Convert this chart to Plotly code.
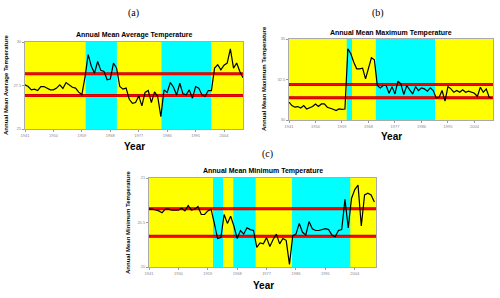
import plotly.graph_objects as go

W, H = 500, 298
years = list(range(1941, 2011))

# Panel (a): annual mean average temperature
avg_temp = [27.54, 27.44, 27.25, 27.29, 27.21, 27.44, 27.44, 27.35, 27.25, 27.25,
            27.35, 27.54, 27.33, 27.67, 27.52, 27.40, 27.35, 27.12, 26.98, 28.00,
            29.27, 28.60, 28.21, 28.88, 28.37, 28.31, 27.83, 27.87, 28.79, 28.50,
            27.44, 27.29, 27.35, 26.71, 26.48, 26.52, 26.90, 26.33, 27.10, 27.21,
            26.52, 27.13, 26.87, 25.71, 27.25, 27.10, 27.67, 27.40, 26.96, 27.63,
            27.02, 26.96, 27.25, 26.77, 27.44, 27.35, 26.96, 26.87, 27.21, 27.21,
            28.50, 28.69, 28.40, 28.67, 28.79, 29.60, 28.50, 28.79, 28.31, 27.94]
avg_refs = [28.17, 26.92]
avg_bands = [1941, 1960.2, 1970.1, 1984.2, 2000.0, 2010]

# Panel (b): annual mean maximum temperature
max_temp = [31.10, 30.89, 30.79, 30.83, 30.74, 30.89, 30.68, 30.74, 30.83, 30.99,
            30.83, 30.99, 30.99, 30.79, 30.74, 30.66, 30.58, 30.68, 30.66, 30.68,
            34.40, 34.09, 33.57, 33.16, 33.16, 33.20, 32.54, 33.16, 33.84, 33.72,
            32.13, 31.98, 32.13, 32.13, 31.65, 32.06, 31.61, 32.40, 32.23, 31.57,
            32.13, 31.86, 31.61, 32.06, 31.82, 31.98, 31.92, 31.78, 31.98, 31.82,
            31.36, 31.40, 31.82, 31.16, 32.06, 31.92, 31.71, 31.82, 31.71, 31.86,
            31.71, 31.78, 31.71, 31.65, 31.45, 32.02, 31.71, 31.92, 31.40, 31.36]
max_refs = [32.19, 31.38]
max_bands = [1941, 1960.6, 1962.4, 1970.5, 1990.6, 2010.3]

# Panel (c): annual mean minimum temperature
min_temp = [20.65, 20.65, 20.64, 20.63, 20.61, 20.65, 20.65, 20.64, 20.64, 20.64,
            20.66, 20.63, 20.69, 20.64, 20.65, 20.68, 20.59, 20.59, 20.63, 20.65,
            20.49, 20.32, 20.33, 20.59, 20.49, 20.57, 20.46, 20.32, 20.41, 20.37,
            20.44, 20.42, 20.41, 20.22, 20.27, 20.26, 20.33, 20.23, 20.31, 20.37,
            20.26, 20.32, 20.30, 20.03, 20.35, 20.37, 20.49, 20.39, 20.36, 20.51,
            20.43, 20.41, 20.41, 20.42, 20.43, 20.42, 20.36, 20.34, 20.41, 20.42,
            20.76, 20.44, 20.77, 20.87, 20.92, 20.46, 20.81, 20.83, 20.81, 20.73]
min_refs = [20.655, 20.345]
min_bands = [1941, 1960.6, 1963.7, 1966.8, 1973.7, 1984.8, 2002.7, 2010.5]

titles = ["Annual Mean Average Temperature", "Annual Mean Maximum Temperature",
          "Annual Mean Minimum Temperature"]
panel_tags = ["(a)", "(b)", "(c)"]
x_ticks = [1941, 1950, 1959, 1968, 1977, 1986, 1995, 2004]
y_ticks_a = [25, 27.5, 30]
y_ticks_b = [30, 32.5, 35]
y_ticks_c = [20, 20.5, 21]


def fx(px):
    return px / W


def fy(py):
    return 1 - py / H


panels = [
    dict(y=avg_temp, refs=avg_refs, bands=avg_bands, yt=y_ticks_a, ytl=["25", "27.5", "30"],
         box=(25, 243, 42, 129), tag=(133, 13), title=(134, 35), year=(134, 146), ylab=(6, 85)),
    dict(y=max_temp, refs=max_refs, bands=max_bands, yt=y_ticks_b, ytl=["30", "32.5", "35"],
         box=(289, 493, 39, 120), tag=(378, 13), title=(391, 33), year=(391, 136), ylab=(264, 79)),
    dict(y=min_temp, refs=min_refs, bands=min_bands, yt=y_ticks_c, ytl=["20", "20.5", "21"],
         box=(149, 376, 178, 267), tag=(267, 154), title=(263, 171), year=(263, 285), ylab=(128, 222)),
]

fig = go.Figure()
shapes = []
annotations = []
sans = "Liberation Sans, Arial, sans-serif"
serif = "Liberation Serif, Times New Roman, serif"


def ann(text, px, py, font, angle=0):
    return dict(text=text, x=fx(px), y=fy(py), xref="paper", yref="paper", showarrow=False,
                xanchor="center", yanchor="middle", textangle=angle, font=font)


for i, p in enumerate(panels):
    n = "" if i == 0 else str(i + 1)
    xa, ya = "x" + n, "y" + n
    x0, x1, y0, y1 = p["box"]
    fig.add_trace(go.Scatter(x=years, y=p["y"], mode="lines", xaxis=xa, yaxis=ya,
                             line=dict(color="black", width=1.2), showlegend=False,
                             hoverinfo="skip"))
    b = p["bands"]
    for k in range(len(b) - 1):
        shapes.append(dict(type="rect", xref=xa, yref=ya + " domain", x0=b[k], x1=b[k + 1],
                           y0=0, y1=1, layer="below", line=dict(width=0),
                           fillcolor="#ffff00" if k % 2 == 0 else "#00ffff"))
    for r in p["refs"]:
        shapes.append(dict(type="line", xref=xa + " domain", yref=ya, x0=0, x1=1, y0=r, y1=r,
                           layer="below", line=dict(color="#c00000", width=3)))
        shapes.append(dict(type="line", xref=xa + " domain", yref=ya, x0=0, x1=1, y0=r, y1=r,
                           layer="below", line=dict(color="#ff0000", width=1.8)))
    fig.layout["xaxis" + n] = dict(domain=[fx(x0), fx(x1)], range=[b[0], b[-1]], anchor=ya,
                                   tickvals=x_ticks, ticktext=[str(t) for t in x_ticks],
                                   tickfont=dict(size=4, color="#888888", family=sans),
                                   ticks="outside", ticklen=2, tickcolor="#999999",
                                   showgrid=False, zeroline=False, showline=True,
                                   linecolor="#aaaaaa", linewidth=1, mirror=True,
                                   automargin=False, fixedrange=True)
    fig.layout["yaxis" + n] = dict(domain=[fy(y1), fy(y0)], range=[p["yt"][0], p["yt"][-1]],
                                   anchor=xa, tickvals=p["yt"], ticktext=p["ytl"],
                                   tickfont=dict(size=4, color="#888888", family=sans),
                                   ticks="outside", ticklen=2, tickcolor="#999999",
                                   showgrid=False, zeroline=False, showline=True,
                                   linecolor="#aaaaaa", linewidth=1, mirror=True,
                                   automargin=False, fixedrange=True)
    annotations.append(ann(panel_tags[i], *p["tag"], dict(size=10, family=serif, color="black")))
    annotations.append(ann("<b>" + titles[i] + "</b>", *p["title"],
                           dict(size=7, family=sans, color="black")))
    annotations.append(ann("<b>Year</b>", *p["year"], dict(size=10, family=sans, color="black")))
    annotations.append(ann("<b>" + titles[i] + "</b>", *p["ylab"],
                           dict(size=6, family=sans, color="black"), angle=-90))

fig.update_layout(width=W, height=H, margin=dict(l=0, r=0, t=0, b=0, autoexpand=False),
                  paper_bgcolor="white", plot_bgcolor="#ffff00",
                  shapes=shapes, annotations=annotations)

fig.write_html("out.html", config={"displayModeBar": False, "staticPlot": True},
               post_script="document.body.style.margin='0';document.body.style.padding='0';")
